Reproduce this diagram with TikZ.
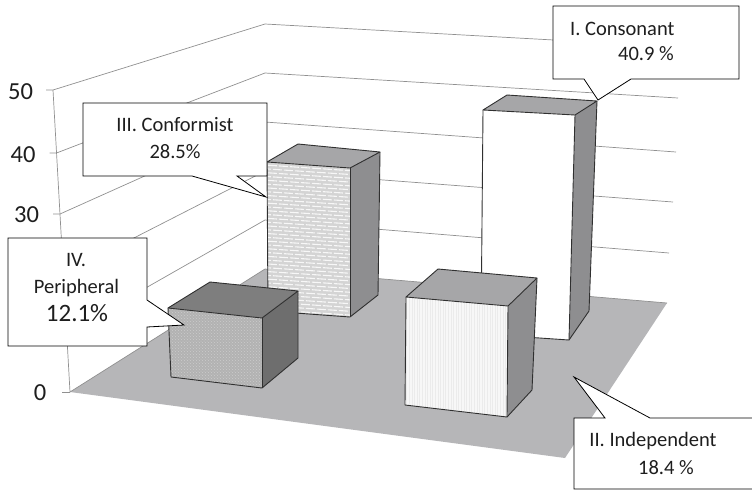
\documentclass[tikz,border=0pt]{standalone}
\usepackage{fontspec}
\setmainfont{Carlito}
\usetikzlibrary{patterns}
\definecolor{gridc}{HTML}{909090}
\definecolor{floorc}{HTML}{B6B6B8}
\definecolor{edgec}{HTML}{303030}
\definecolor{topc}{HTML}{A6A6A8}
\definecolor{sidec}{HTML}{8E8E90}
\definecolor{toptwo}{HTML}{7E7E7E}
\definecolor{sidetwo}{HTML}{6E6E6E}
\definecolor{txtc}{HTML}{1E1E1E}
\tikzset{
  gridline/.style={draw=gridc, line width=0.7pt},
  baredge/.style={draw=edgec, line width=0.9pt, line join=round},
  callout/.style={draw=black, fill=white, line width=0.8pt, line join=miter},
  lbl/.style={text=txtc, font=\fontsize{20.5}{24}\selectfont, inner sep=0pt, align=center},
  ticklbl/.style={text=txtc, font=\fontsize{24.5}{28}\selectfont, inner sep=0pt}
}
\begin{document}
\begin{tikzpicture}[x=1pt,y=-1pt]
\useasboundingbox (0,0) rectangle (752,491);
% ---------- walls: grid lines ----------
\foreach \ya/\xa/\yb/\yc/\xc in {90/53/24/47/680, 153/56.5/73/98/678, 214/60/122/152/676, 274/63.4/171/202/673, 333/66.7/220/253/669}{
  \draw[gridline] (\xa-7,\ya) -- (\xa,\ya) -- (265,\yb) -- (\xc,\yc);
}
% axis
\coordinate (axtop) at (53,90);
\coordinate (axbot) at (70,392);
\draw[gridline] (axtop) -- (axbot);
\draw[gridline] (62,392) -- (axbot);
% ---------- floor ----------
\fill[floorc] (70,392) -- (265,269) -- (667,303) -- (565,458) -- cycle;
\draw[gridline] (70,392) -- (265,269) -- (667,303);
% ---------- bar III (Conformist) ----------
\fill[topc] (267,162) -- (298,144) -- (380,152) -- (350,168) -- cycle;
\fill[sidec] (350,168) -- (380,152) -- (378,295) -- (350,317) -- cycle;
\fill[white!83!black] (267,162) -- (350,168) -- (350,317) -- (268,311) -- cycle;
\begin{scope}
  \clip (267,162) -- (350,168) -- (350,317) -- (268,311) -- cycle;
  \foreach \k in {0,...,40}{
    \pgfmathsetmacro{\yy}{161+3.8*\k}
    \pgfmathsetmacro{\off}{mod(\k,2)*5}
    \draw[white!97!black, line width=1.1pt, dash pattern=on 9pt off 2pt, dash phase=\off pt] (262,\yy) -- (355,\yy+6.2);
  }
\end{scope}
\draw[baredge] (267,162) -- (298,144) -- (380,152) -- (350,168) -- cycle;
\draw[baredge] (350,168) -- (350,317);
\draw[baredge] (380,152) -- (378,295) -- (350,317) -- (268,311) -- (267,162);
% ---------- bar I (Consonant) ----------
\fill[topc] (483,110) -- (507,95) -- (597,101) -- (575,115) -- cycle;
\fill[sidec] (575,115) -- (597,101) -- (589,311) -- (569,340) -- cycle;
\fill[white] (483,110) -- (575,115) -- (569,340) -- (481,334) -- cycle;
\draw[baredge] (483,110) -- (507,95) -- (597,101) -- (575,115) -- cycle;
\draw[baredge] (575,115) -- (569,340);
\draw[baredge] (597,101) -- (589,311) -- (569,340) -- (481,334) -- (483,110);
% ---------- bar IV (Peripheral) ----------
\fill[toptwo] (168,308) -- (210,282) -- (298,291) -- (262,318) -- cycle;
\fill[sidetwo] (262,318) -- (298,291) -- (298,358) -- (262,388) -- cycle;
\fill[white!70!black] (168,308) -- (262,318) -- (262,388) -- (171,377) -- cycle;
\fill[pattern=crosshatch dots, pattern color=white!80!black] (168,308) -- (262,318) -- (262,388) -- (171,377) -- cycle;
\draw[baredge] (168,308) -- (210,282) -- (298,291) -- (262,318) -- cycle;
\draw[baredge] (262,318) -- (262,388);
\draw[baredge] (298,291) -- (298,358) -- (262,388) -- (171,377) -- (168,308);
% ---------- bar II (Independent) ----------
\fill[topc] (406,297) -- (438,269) -- (537,278) -- (508,306) -- cycle;
\fill[sidec] (508,306) -- (537,278) -- (532,390) -- (507,417) -- cycle;
\fill[white!97!black] (406,297) -- (508,306) -- (507,417) -- (405,405) -- cycle;
\begin{scope}
  \clip (406,297) -- (508,306) -- (507,417) -- (405,405) -- cycle;
  \foreach \k in {0,...,40}{
    \draw[white!92!black, line width=0.4pt] (404+2.6*\k,290) -- (404+2.6*\k,420);
  }
\end{scope}
\draw[baredge] (406,297) -- (438,269) -- (537,278) -- (508,306) -- cycle;
\draw[baredge] (508,306) -- (507,417);
\draw[baredge] (537,278) -- (532,390) -- (507,417) -- (405,405) -- (406,297);
% ---------- tick labels ----------
\node[ticklbl] (t50) at (20.5,92) {50};
\node[ticklbl] (t40) at (23,155) {40};
\node[ticklbl] (t30) at (26.5,215) {30};
\node[ticklbl] (t0) at (40,393) {0};
% ---------- callouts ----------
\draw[callout] (83,103) -- (267,103) -- (267,176) -- (237,176) -- (266,197) -- (192,176) -- (83,176) -- cycle;
\node[lbl] (c3a) at (175,124.5) {III. Conformist};
\node[lbl] (c3b) at (175,152) {28.5\%};
\draw[callout] (553,6) -- (739,6) -- (739,79) -- (631,79) -- (598,100) -- (584,79) -- (553,79) -- cycle;
\node[lbl, anchor=west] (c1a) at (570,28.5) {I. Consonant};
\node[lbl, anchor=west] (c1b) at (618,54) {40.9 \%};
\draw[callout] (8,238) -- (147,238) -- (147,300) -- (184,325) -- (147,327) -- (147,346) -- (8,346) -- cycle;
\node[lbl] (c4a) at (76,260) {IV.};
\node[lbl] (c4b) at (76.5,288) {Peripheral};
\node[lbl, font=\fontsize{25}{29}\selectfont] (c4c) at (77,313) {12.1\%};
\fill[white] (574,418) rectangle (752,489);
\draw[callout, fill=white] (752,418) -- (650,418) -- (574,377) -- (605,418) -- (574,418) -- (574,489) -- (752,489);
\node[lbl] (c2a) at (653,441) {II. Independent};
\node[lbl] (c2b) at (666,467.5) {18.4 \%};
\end{tikzpicture}
\end{document}
